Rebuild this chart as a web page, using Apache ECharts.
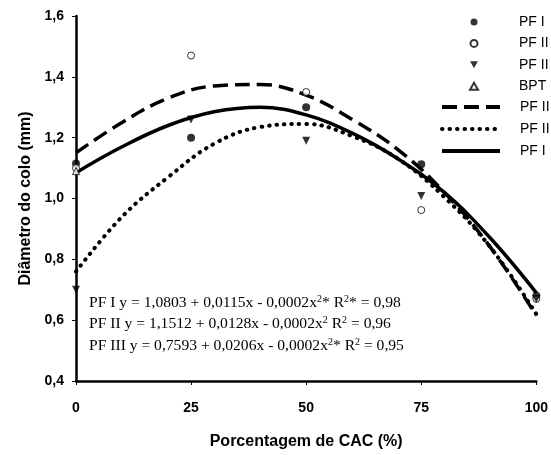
<!DOCTYPE html>
<html>
<head>
<meta charset="utf-8">
<script src="https://cdn.jsdelivr.net/npm/echarts@6/dist/echarts.min.js"></script>
<style>
  html, body { margin: 0; padding: 0; background: #fff; }
  #main { width: 551px; height: 455px; }
</style>
</head>
<body>
<div id="main"></div>
<script>
// observed points (x = % CAC)
var xCats = [0, 25, 50, 75, 100];
var pf1Pts = [1.115, 1.20, 1.30, 1.113, 0.68];
var pf2Pts = [1.10, 1.47, 1.35, 0.962, 0.67];
var pf3Pts = [0.70, 1.26, 1.19, 1.008, 0.67];
var bptPts = [1.09];

// fitted curves
var curveX = [0, 10, 20, 30, 40, 50, 60, 70, 80, 90, 100];
var pf1Curve = [1.085, 1.17, 1.24, 1.285, 1.30, 1.275, 1.215, 1.13, 1.02, 0.87, 0.69];
var pf2Curve = [1.15, 1.25, 1.33, 1.37, 1.375, 1.34, 1.26, 1.16, 1.02, 0.84, 0.615];
var pf3Curve = [0.76, 0.94, 1.07, 1.18, 1.235, 1.245, 1.205, 1.13, 1.005, 0.84, 0.62];

var yTicks = [0.4, 0.6, 0.8, 1.0, 1.2, 1.4, 1.6];

// legend labels as printed (names must be unique for echarts)
var legendText = {
  'PF I': 'PF I', 'PF II': 'PF II', 'PF III': 'PF II', 'BPT': 'BPT',
  'PF II curve': 'PF II', 'PF III curve': 'PF II', 'PF I curve': 'PF I'
};

function pairs(xs, ys) {
  return ys.map(function (v, i) { return [xs[i], v]; });
}

var myChart = echarts.init(document.getElementById('main'));

var ink = '#000';
var serif = '"Liberation Serif", "DejaVu Serif", serif';
var sans = '"Liberation Sans", Arial, sans-serif';

function eq(a, b, c) {
  return '{n|' + a + '}{s|2}{n|' + b + '}{s|2}{n|' + c + '}';
}
var eqRich = {
  n: { fontFamily: serif, fontSize: 15.6, fill: ink },
  s: { fontFamily: serif, fontSize: 10, fill: ink, padding: [0, 0, 8, 0] }
};

myChart.setOption({
  backgroundColor: '#fff',
  animation: false,
  grid: { left: 76, right: 13, top: 16, bottom: 72, containLabel: false },
  xAxis: {
    type: 'value', min: 0, max: 100, interval: 25,
    name: 'Porcentagem de CAC (%)', nameLocation: 'middle', nameGap: 53,
    nameTextStyle: { fontFamily: sans, fontWeight: 'bold', fontSize: 16, color: ink },
    axisLine: { lineStyle: { color: ink, width: 2.5 } },
    axisTick: { show: true, length: 4, lineStyle: { color: ink } },
    axisLabel: { fontFamily: sans, fontWeight: 'bold', fontSize: 14, color: ink, margin: 20 },
    splitLine: { show: false }
  },
  yAxis: {
    type: 'value', min: yTicks[0], max: yTicks[yTicks.length - 1], interval: 0.2,
    name: 'Diâmetro do colo (mm)', nameLocation: 'middle', nameGap: 35,
    nameTextStyle: { fontFamily: sans, fontWeight: 'bold', fontSize: 16, color: ink },
    axisLine: { show: true, lineStyle: { color: ink, width: 2.5 } },
    axisTick: { show: true, length: 4, lineStyle: { color: ink } },
    axisLabel: {
      fontFamily: sans, fontWeight: 'bold', fontSize: 14, color: ink, margin: 12,
      formatter: function (v) { return v.toFixed(1).replace('.', ','); }
    },
    splitLine: { show: false }
  },
  legend: [{
    orient: 'vertical', left: 469, top: 15, padding: 0,
    itemWidth: 8, itemHeight: 7, itemGap: 7.4,
    data: [
      { name: 'PF I' },
      { name: 'PF II' },
      { name: 'PF III', icon: 'path://M0,0L10,0L5,9Z' },
      { name: 'BPT' }
    ],
    formatter: function (n) { return legendText[n]; },
    textStyle: { fontFamily: sans, fontSize: 14, color: ink, lineHeight: 14, padding: [0, 0, 0, 36] }
  }, {
    orient: 'vertical', left: 440, top: 100, padding: 0,
    itemWidth: 58, itemHeight: 14, itemGap: 8,
    data: ['PF II curve', 'PF III curve', 'PF I curve'],
    formatter: function (n) { return legendText[n]; },
    itemStyle: { opacity: 0 },
    lineStyle: { width: 4 },
    textStyle: { fontFamily: sans, fontSize: 14, color: ink, lineHeight: 14, padding: [0, 0, 0, 15] }
  }],
  graphic: [{
    type: 'text', left: 89, top: 294,
    style: { text: eq('PF I y = 1,0803 + 0,0115x - 0,0002x', '* R', '* = 0,98'), rich: eqRich }
  }, {
    type: 'text', left: 89, top: 315,
    style: { text: eq('PF II y = 1,1512 + 0,0128x - 0,0002x', ' R', ' = 0,96'), rich: eqRich }
  }, {
    type: 'text', left: 89, top: 337,
    style: { text: eq('PF III y = 0,7593 + 0,0206x - 0,0002x', '* R', ' = 0,95'), rich: eqRich }
  }],
  series: [{
    name: 'PF II curve', type: 'line', data: pairs(curveX, pf2Curve), smooth: 0.4,
    symbol: 'none', itemStyle: { color: ink },
    lineStyle: { color: ink, width: 3.5, type: [15, 7] }, z: 2
  }, {
    name: 'PF III curve', type: 'line', data: pairs(curveX, pf3Curve), smooth: 0.4,
    symbol: 'none', itemStyle: { color: ink },
    lineStyle: { color: ink, width: 4, type: [0.5, 7], cap: 'round' }, z: 2
  }, {
    name: 'PF I curve', type: 'line', data: pairs(curveX, pf1Curve), smooth: 0.4,
    symbol: 'none', itemStyle: { color: ink },
    lineStyle: { color: ink, width: 3.5 }, z: 2
  }, {
    name: 'PF I', type: 'scatter', data: pairs(xCats, pf1Pts),
    symbol: 'circle', symbolSize: 8, itemStyle: { color: ink }, z: 3
  }, {
    name: 'PF II', type: 'scatter', data: pairs(xCats, pf2Pts),
    symbol: 'circle', symbolSize: 7, itemStyle: { color: '#fff', borderColor: ink, borderWidth: 1 }, z: 3
  }, {
    name: 'PF III', type: 'scatter', data: pairs(xCats, pf3Pts),
    symbol: 'triangle', symbolRotate: 180, symbolSize: 8, itemStyle: { color: ink }, z: 3
  }, {
    name: 'BPT', type: 'scatter', data: pairs(xCats, bptPts),
    symbol: 'triangle', symbolSize: 7, itemStyle: { color: '#fff', borderColor: ink, borderWidth: 1 }, z: 3
  }]
});
</script>
</body>
</html>
